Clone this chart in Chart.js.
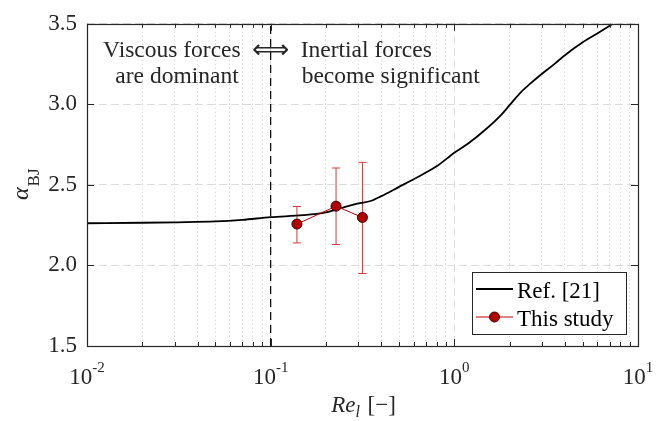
<!DOCTYPE html>
<html>
<head>
<meta charset="utf-8">
<script src="https://cdn.jsdelivr.net/npm/chart.js@4.4.1/dist/chart.umd.min.js"></script>
<style>
  html, body { margin: 0; padding: 0; background: #fff; }
  #wrap { width: 665px; height: 421px; }
</style>
</head>
<body>
<div id="wrap"><canvas id="alphaChart" width="665" height="421"></canvas></div>
<script>
// données
const refRe    = [0.01, 0.02, 0.03, 0.05, 0.07, 0.1, 0.15, 0.2, 0.25, 0.3, 0.35, 0.4, 0.5, 0.6, 0.8, 1.0, 1.2, 1.5, 1.8, 2.0, 2.3, 2.6, 3.0, 3.5, 4.0, 5.0, 6.0, 7.3];
const refAlpha = [2.262, 2.265, 2.268, 2.273, 2.283, 2.300, 2.312, 2.330, 2.360, 2.385, 2.400, 2.430, 2.488, 2.535, 2.615, 2.700, 2.760, 2.850, 2.935, 2.995, 3.075, 3.130, 3.190, 3.250, 3.305, 3.385, 3.440, 3.500];

const studyRe     = [0.139, 0.227, 0.316];
const studyAlpha  = [2.257, 2.368, 2.298];
const studyErrLo  = [2.140, 2.130, 1.950];
const studyErrHi  = [2.366, 2.605, 2.640];

const boundaryRe = 0.1;
const xTickLabels = [0.01, 0.1, 1, 10];
const yTickLabels = [1.5, 2.0, 2.5, 3.0, 3.5];

const SERIF = '"Liberation Serif", "Times New Roman", "DejaVu Serif", serif';
const INK = '#262626';
const RED = '#c00000';

// points pour Chart.js
const refPoints = refRe.map((x, i) => ({ x: x, y: refAlpha[i] }));
const studyPoints = studyRe.map((x, i) => ({ x: x, y: studyAlpha[i] }));
const boundaryPoints = [{ x: boundaryRe, y: yTickLabels[0] }, { x: boundaryRe, y: yTickLabels[yTickLabels.length - 1] }];

function isDecade(v) {
    const e = Math.log10(v);
    return Math.abs(e - Math.round(e)) < 1e-9;
}

// barres d'erreur + habillage (cadre, graduations internes, textes, légende)
const decorPlugin = {
    id: 'decor',
    beforeDatasetsDraw(chart) {
        const ctx = chart.ctx, xs = chart.scales.x, ys = chart.scales.y;
        ctx.save();
        ctx.strokeStyle = '#d23c3c';
        ctx.lineWidth = 1;
        studyRe.forEach((re, i) => {
            const px = xs.getPixelForValue(re);
            const lo = ys.getPixelForValue(studyErrLo[i]);
            const hi = ys.getPixelForValue(studyErrHi[i]);
            ctx.beginPath();
            ctx.moveTo(px, lo); ctx.lineTo(px, hi);
            ctx.moveTo(px - 4, lo); ctx.lineTo(px + 4, lo);
            ctx.moveTo(px - 4, hi); ctx.lineTo(px + 4, hi);
            ctx.stroke();
        });
        ctx.restore();
    },
    afterDraw(chart) {
        const ctx = chart.ctx, xs = chart.scales.x, ys = chart.scales.y;
        const a = chart.chartArea;
        ctx.save();

        // graduations internes
        ctx.strokeStyle = INK;
        ctx.lineWidth = 1;
        ctx.beginPath();
        xs.ticks.forEach(t => {
            const px = Math.round(xs.getPixelForValue(t.value)) + 0.5;
            const len = isDecade(t.value) ? 7 : 4;
            ctx.moveTo(px, a.bottom); ctx.lineTo(px, a.bottom - len);
            ctx.moveTo(px, a.top); ctx.lineTo(px, a.top + len);
        });
        yTickLabels.forEach(v => {
            const py = Math.round(ys.getPixelForValue(v)) + 0.5;
            ctx.moveTo(a.left, py); ctx.lineTo(a.left + 7, py);
            ctx.moveTo(a.right, py); ctx.lineTo(a.right - 7, py);
        });
        ctx.stroke();

        // cadre
        ctx.strokeStyle = INK;
        ctx.lineWidth = 1.2;
        ctx.strokeRect(Math.round(a.left) + 0.5, Math.round(a.top) + 0.5,
                       Math.round(a.right - a.left), Math.round(a.bottom - a.top));

        // étiquettes de l'axe x : 10^n
        ctx.fillStyle = INK;
        ctx.textBaseline = 'alphabetic';
        ctx.textAlign = 'left';
        xTickLabels.forEach(v => {
            const exp = String(Math.round(Math.log10(v)));
            ctx.font = '23px ' + SERIF;
            const wb = ctx.measureText('10').width;
            ctx.font = '15px ' + SERIF;
            const we = ctx.measureText(exp).width;
            const px = xs.getPixelForValue(v);
            const x0 = px - (wb + we) / 2;
            ctx.font = '23px ' + SERIF;
            ctx.fillText('10', x0, 384);
            ctx.font = '15px ' + SERIF;
            ctx.fillText(exp, x0 + wb, 372);
        });

        // titre axe x : Re_l [−]
        ctx.font = 'italic 23px ' + SERIF;
        const wRe = ctx.measureText('Re').width;
        ctx.font = 'italic 16px ' + SERIF;
        const wl = ctx.measureText('l').width;
        ctx.font = '23px ' + SERIF;
        const wBr = ctx.measureText(' [−]').width;
        let tx = (a.left + a.right) / 2 - (wRe + wl + wBr) / 2;
        ctx.font = 'italic 23px ' + SERIF;
        ctx.fillText('Re', tx, 412);
        ctx.font = 'italic 16px ' + SERIF;
        ctx.fillText('l', tx + wRe, 417);
        ctx.font = '23px ' + SERIF;
        ctx.fillText(' [−]', tx + wRe + wl + 2, 412);

        // titre axe y : α_BJ
        ctx.save();
        ctx.translate(28, 200);
        ctx.rotate(-Math.PI / 2);
        ctx.font = 'italic 24px ' + SERIF;
        ctx.fillText('α', 0, 0);
        const wa = ctx.measureText('α').width;
        ctx.font = '17px ' + SERIF;
        ctx.fillText('BJ', wa + 1, 11);
        ctx.restore();

        // annotation autour de la frontière
        const bx = xs.getPixelForValue(boundaryRe);
        ctx.font = '23.5px ' + SERIF;
        ctx.textAlign = 'right';
        ctx.fillText('Viscous forces', bx - 30, 57);
        ctx.fillText('are dominant', bx - 32, 83);
        ctx.textAlign = 'left';
        ctx.fillText('Inertial forces', bx + 30, 57);
        ctx.fillText('become significant', bx + 31, 83);
        ctx.textAlign = 'center';
        ctx.font = '26px "DejaVu Sans", ' + SERIF;
        ctx.fillText('⟺', bx, 58);

        // légende
        const lg = { left: 472, top: 272, width: 154, height: 62 };
        ctx.fillStyle = '#fff';
        ctx.fillRect(lg.left, lg.top, lg.width, lg.height);
        ctx.strokeStyle = INK;
        ctx.lineWidth = 1;
        ctx.strokeRect(lg.left + 0.5, lg.top + 0.5, lg.width, lg.height);

        const ds = chart.data.datasets;
        ctx.textAlign = 'left';
        ctx.font = '23px ' + SERIF;

        ctx.strokeStyle = ds[0].borderColor;
        ctx.lineWidth = ds[0].borderWidth;
        ctx.beginPath(); ctx.moveTo(476, 289); ctx.lineTo(513, 289); ctx.stroke();
        ctx.fillStyle = '#000';
        ctx.fillText(ds[0].label, 517, 298);

        ctx.strokeStyle = ds[1].borderColor;
        ctx.lineWidth = ds[1].borderWidth;
        ctx.beginPath(); ctx.moveTo(476, 317); ctx.lineTo(513, 317); ctx.stroke();
        ctx.beginPath();
        ctx.arc(494.5, 317, 5, 0, Math.PI * 2);
        ctx.fillStyle = ds[1].pointBackgroundColor;
        ctx.fill();
        ctx.strokeStyle = ds[1].pointBorderColor;
        ctx.stroke();
        ctx.fillStyle = '#000';
        ctx.fillText(ds[1].label, 517, 326);

        ctx.restore();
    }
};

const ctx = document.getElementById('alphaChart').getContext('2d');
const alphaChart = new Chart(ctx, {
    type: 'scatter',
    data: {
        datasets: [
            {
                label: 'Ref. [21]',
                data: refPoints,
                showLine: true,
                borderColor: '#000',
                borderWidth: 1.8,
                pointRadius: 0,
                cubicInterpolationMode: 'monotone',
                order: 1
            },
            {
                label: 'This study',
                data: studyPoints,
                showLine: true,
                borderColor: RED,
                borderWidth: 1,
                pointRadius: 5,
                pointBackgroundColor: '#b00000',
                pointBorderColor: '#3a0000',
                pointBorderWidth: 1,
                order: 0
            },
            {
                label: 'boundary',
                data: boundaryPoints,
                showLine: true,
                borderColor: '#000',
                borderWidth: 1.2,
                borderDash: [8, 5],
                pointRadius: 0,
                order: 2
            }
        ]
    },
    options: {
        responsive: false,
        animation: false,
        devicePixelRatio: 1,
        layout: { padding: { top: 15, right: 27, left: 0, bottom: 0 } },
        plugins: {
            legend: { display: false },
            tooltip: { enabled: false }
        },
        scales: {
            x: {
                type: 'logarithmic',
                min: xTickLabels[0],
                max: xTickLabels[xTickLabels.length - 1],
                afterBuildTicks(scale) {
                    const ticks = [];
                    for (let d = 0; d < xTickLabels.length - 1; d++) {
                        for (let k = 1; k <= 9; k++) {
                            ticks.push({ value: xTickLabels[d] * k });
                        }
                    }
                    ticks.push({ value: xTickLabels[xTickLabels.length - 1] });
                    scale.ticks = ticks;
                },
                afterFit(scale) { scale.height = 75; },
                ticks: { display: false },
                border: {
                    display: false,
                    dash: c => (c.tick && isDecade(c.tick.value)) ? [8, 4] : [1, 3]
                },
                grid: {
                    drawTicks: false,
                    color: c => (c.tick && isDecade(c.tick.value)) ? '#dcdcdc' : '#cfcfcf',
                    lineWidth: 1
                }
            },
            y: {
                min: yTickLabels[0],
                max: yTickLabels[yTickLabels.length - 1],
                afterBuildTicks(scale) {
                    scale.ticks = yTickLabels.map(v => ({ value: v }));
                },
                afterFit(scale) { scale.width = 87; },
                ticks: {
                    padding: 10,
                    color: INK,
                    font: { family: SERIF, size: 23 },
                    callback: v => Number(v).toFixed(1)
                },
                border: { display: false, dash: [8, 4] },
                grid: {
                    drawTicks: false,
                    color: '#dcdcdc',
                    lineWidth: 1
                }
            }
        }
    },
    plugins: [decorPlugin]
});
</script>
</body>
</html>
